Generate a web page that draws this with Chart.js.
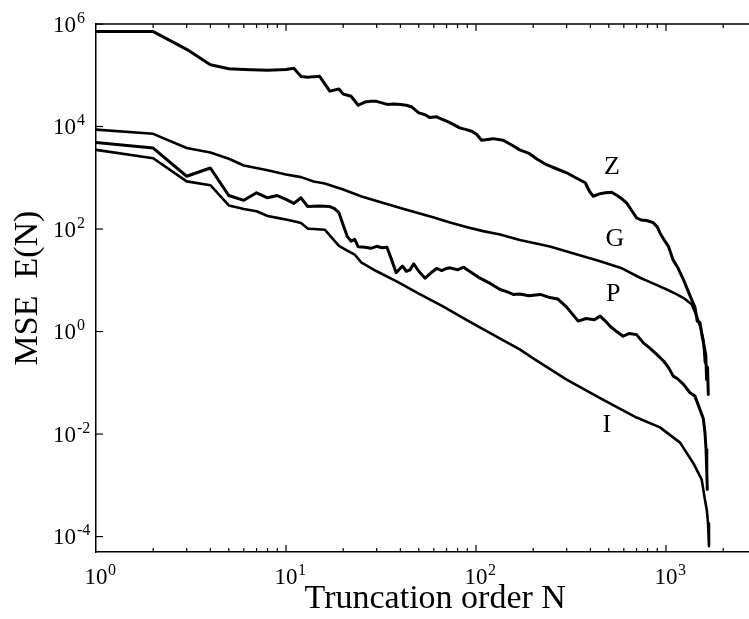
<!DOCTYPE html>
<html>
<head>
<meta charset="utf-8">
<script src="https://cdn.jsdelivr.net/npm/chart.js@4"></script>
<style>
  html, body { margin: 0; padding: 0; background: #fff; overflow: hidden; }
  #mse_chart { display: block; }
</style>
</head>
<body>
<canvas id="mse_chart" width="749" height="619"></canvas>
<script>
// truncation order N and mean square error E(N)
const zN = [1, 2, 3, 4, 5, 6, 8, 10, 11, 12, 13, 14, 15, 17, 19, 20, 22, 24, 26, 28, 30, 34, 37, 40, 43, 46, 50, 54, 57, 62, 66, 70, 76, 82, 88, 95, 101, 107, 115, 123, 139, 155, 170, 190, 210, 235, 265, 300, 335, 376, 395, 414, 450, 480, 518, 561, 590, 620, 660, 700, 740, 790, 857, 900, 930, 976, 1030, 1090, 1150, 1237, 1300, 1365, 1420, 1460, 1510, 1550, 1590, 1620, 1636, 1655, 1670];
const zE = [7.1e5, 7.1e5, 3.2e5, 1.6e5, 1.34e5, 1.3e5, 1.25e5, 1.3e5, 1.37e5, 9.5e4, 9.1e4, 9.4e4, 9.6e4, 4.9e4, 5.4e4, 4.3e4, 3.9e4, 2.6e4, 3.0e4, 3.1e4, 3.1e4, 2.7e4, 2.75e4, 2.7e4, 2.6e4, 2.4e4, 1.85e4, 1.7e4, 1.5e4, 1.55e4, 1.4e4, 1.27e4, 1.1e4, 9.4e3, 8.8e3, 8.1e3, 7.0e3, 5.4e3, 5.6e3, 5.8e3, 5.4e3, 4.3e3, 3.5e3, 3.0e3, 2.3e3, 1.8e3, 1.5e3, 1.25e3, 1.0e3, 800, 550, 436, 490, 510, 520, 436, 380, 324, 230, 165, 150, 147, 133, 110, 84, 62, 46, 25, 18, 10.2, 6.5, 4.2, 3.0, 1.6, 1.5, 0.8, 0.51, 0.35, 0.115, 0.2, 0.059];

const gN = [1, 2, 3, 4, 5, 6, 8, 10, 12, 14, 16, 20, 25, 30, 40, 50, 60, 73, 90, 109, 134, 170, 245, 330, 450, 580, 730, 860, 1009, 1120, 1233, 1365, 1452, 1520, 1572, 1604];
const gE = [8.7e3, 7.2e3, 3.8e3, 3.1e3, 2.35e3, 1.74e3, 1.4e3, 1.16e3, 1.03e3, 845, 775, 590, 430, 352, 258, 204, 167, 134, 108, 91, 78, 61, 45.7, 33, 23.6, 17.4, 11.2, 8.6, 6.6, 5.5, 4.55, 3.4, 2.0, 1.2, 0.7, 0.25];

const pN = [1, 2, 3, 4, 5, 6, 7, 8, 9, 10, 11, 12, 13, 15, 17, 18, 19, 20, 21, 22, 23, 24, 26, 28, 30, 32, 34, 36, 38, 41, 43, 45, 47, 50, 54, 58, 62, 66, 70, 73, 80, 86, 95, 105, 120, 134, 145, 157, 170, 190, 218, 245, 270, 300, 345, 380, 420, 450, 480, 508, 550, 595, 640, 700, 760, 820, 900, 976, 1030, 1092, 1150, 1237, 1337, 1420, 1510, 1572, 1604, 1625, 1640, 1650];
const pE = [4900, 3800, 1070, 1550, 450, 363, 510, 407, 450, 380, 316, 407, 275, 280, 275, 250, 208, 120, 72, 58, 63, 45, 44, 42, 46, 43, 44, 25, 14, 19, 15, 16, 21, 15, 11, 14, 17, 15.5, 17, 17.5, 16, 18, 14, 11, 8.5, 6.6, 6.0, 5.3, 5.4, 5.0, 5.3, 4.6, 4.3, 3.0, 1.6, 1.8, 1.7, 2.0, 1.6, 1.27, 1.0, 0.81, 0.92, 0.87, 0.6, 0.48, 0.35, 0.26, 0.2, 0.135, 0.12, 0.093, 0.064, 0.055, 0.03, 0.02, 0.0107, 0.005, 0.0018, 8.3e-4];

const iN = [1, 2, 3, 4, 5, 6, 7, 8, 9, 10, 11, 12, 13, 14, 16, 19, 21, 23, 25, 30, 38, 50, 67, 90, 134, 170, 200, 300, 450, 700, 930, 1186, 1393, 1541, 1604, 1640, 1665, 1684];
const iE = [3500, 2400, 850, 715, 288, 245, 222, 180, 165, 153, 142, 131, 102, 100, 97, 47, 38, 31.6, 22, 15, 9.6, 5.5, 3.1, 1.65, 0.73, 0.45, 0.30, 0.115, 0.05, 0.021, 0.0135, 0.0068, 0.0027, 0.0013, 5.2e-4, 3.3e-4, 1.8e-4, 6.5e-5];

// curve names and where they sit (data coordinates)
const curveNames = ['Z', 'G', 'P', 'I'];
const nameN = [520, 539, 527, 489];
const nameE = [1585, 62, 5.3, 0.015];

// tick positions
const xLabelTicks = [1, 10, 100, 1000];
const xMinorTicks = [2, 3, 4, 5, 6, 7, 8, 9, 20, 30, 40, 50, 60, 70, 80, 90, 200, 300, 400, 500, 600, 700, 800, 900, 2000];
const yLabelTicks = [1e-4, 1e-2, 1e0, 1e2, 1e4, 1e6];

const serif = '"Liberation Serif", "Times New Roman", serif';

function toPoints(ns, es) {
    return ns.map((n, k) => ({x: n, y: es[k]}));
}

function curve(label, ns, es, width) {
    return {
        label: label,
        data: toPoints(ns, es),
        showLine: true,
        borderColor: '#000',
        borderWidth: width,
        borderJoinStyle: 'round',
        borderCapStyle: 'round',
        pointRadius: 0,
        tension: 0
    };
}

const axisDecor = {
    id: 'axisDecor',
    afterDraw(chart) {
        const ctx = chart.ctx;
        const xs = chart.scales.x;
        const ys = chart.scales.y;
        const area = chart.chartArea;
        ctx.save();
        ctx.strokeStyle = '#000';
        ctx.fillStyle = '#000';
        ctx.lineWidth = 1.5;

        // top frame line
        ctx.beginPath();
        ctx.moveTo(area.left, area.top);
        ctx.lineTo(chart.width, area.top);
        ctx.stroke();

        // x ticks, inward, on bottom and top
        ctx.lineWidth = 1.2;
        const xTick = (v, len) => {
            const px = xs.getPixelForValue(v);
            if (px <= area.left + 0.5) return;
            ctx.beginPath();
            ctx.moveTo(px, area.bottom);
            ctx.lineTo(px, area.bottom - len);
            ctx.moveTo(px, area.top);
            ctx.lineTo(px, area.top + len);
            ctx.stroke();
        };
        xLabelTicks.forEach(v => xTick(v, 7));
        xMinorTicks.forEach(v => xTick(v, 4));

        // y ticks
        yLabelTicks.forEach(v => {
            const py = ys.getPixelForValue(v);
            ctx.beginPath();
            ctx.moveTo(area.left, py);
            ctx.lineTo(area.left + 7, py);
            ctx.stroke();
        });

        const big = '23px ' + serif;
        const small = '16px ' + serif;

        // x tick labels 10^k
        xLabelTicks.forEach(v => {
            const px = xs.getPixelForValue(v);
            ctx.font = big;
            ctx.textAlign = 'center';
            ctx.textBaseline = 'alphabetic';
            ctx.fillText('10', px, 584);
            ctx.font = small;
            ctx.textAlign = 'left';
            ctx.fillText(String(Math.round(Math.log10(v))), px + 12, 575);
        });

        // y tick labels 10^k
        yLabelTicks.forEach(v => {
            const py = ys.getPixelForValue(v);
            ctx.font = big;
            ctx.textAlign = 'right';
            ctx.textBaseline = 'alphabetic';
            ctx.fillText('10', 76, py + 7.5);
            ctx.font = small;
            ctx.textAlign = 'left';
            ctx.fillText(String(Math.round(Math.log10(v))), 77, py - 1.5);
        });

        // curve names
        ctx.font = '26px ' + serif;
        ctx.textAlign = 'center';
        ctx.textBaseline = 'middle';
        curveNames.forEach((name, k) => {
            ctx.fillText(name, xs.getPixelForValue(nameN[k]), ys.getPixelForValue(nameE[k]));
        });
        ctx.restore();
    }
};

const ctx = document.getElementById('mse_chart');
new Chart(ctx, {
    type: 'scatter',
    data: {
        datasets: [
            curve('Z', zN, zE, 3),
            curve('G', gN, gE, 2.6),
            curve('P', pN, pE, 3),
            curve('I', iN, iE, 2.6)
        ]
    },
    options: {
        responsive: false,
        animation: false,
        layout: { padding: { top: 24, right: 0, bottom: 0, left: 0 } },
        plugins: {
            legend: { display: false },
            tooltip: { enabled: false }
        },
        scales: {
            x: {
                type: 'logarithmic',
                position: 'bottom',
                min: 1,
                max: 2735,
                grid: { display: false },
                border: { display: true, color: '#000', width: 1.5 },
                ticks: { display: false },
                title: {
                    display: true,
                    // leading spaces nudge the title right, as in the original
                    text: '   Truncation order N',
                    color: '#000',
                    font: { family: serif, size: 34 },
                    padding: { top: 0, bottom: 0 }
                },
                afterFit: s => { s.height = 67; }
            },
            y: {
                type: 'logarithmic',
                position: 'left',
                min: 5e-5,
                max: 1e6,
                grid: { display: false },
                border: { display: true, color: '#000', width: 1.5 },
                ticks: { display: false },
                title: {
                    display: true,
                    text: 'MSE  E(N)',
                    color: '#000',
                    font: { family: serif, size: 34 },
                    padding: { top: 8, bottom: 0 }
                },
                afterFit: s => { s.width = 96; }
            }
        }
    },
    plugins: [axisDecor]
});
</script>
</body>
</html>
